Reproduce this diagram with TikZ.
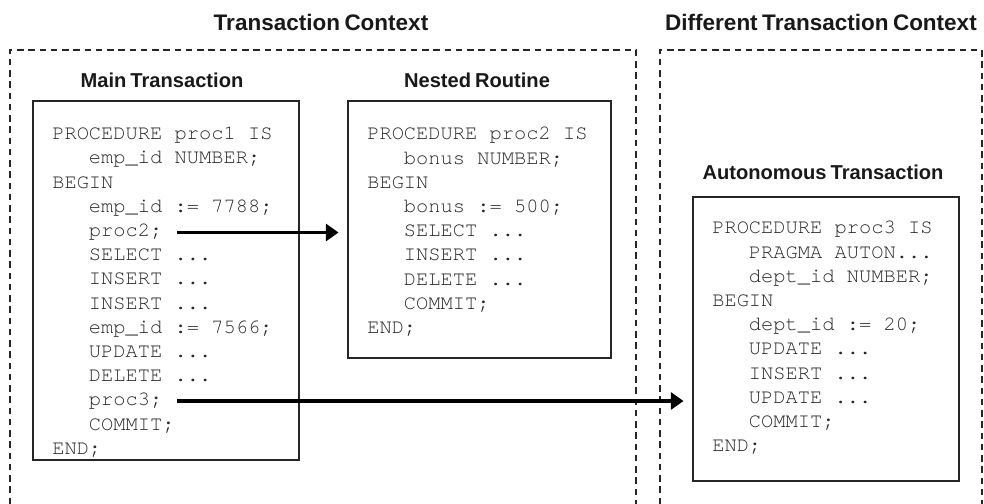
\documentclass[tikz,border=0pt]{standalone}
\usepackage{fontspec}
\setmainfont{Liberation Sans}
\setmonofont{texgyrecursor}[Extension=.otf,UprightFont=*-regular,BoldFont=*-bold]
\usetikzlibrary{arrows.meta}
\newcommand{\codeind}{\phantom{xxx}}

\begin{document}
\begin{tikzpicture}[x=0.025cm,y=-0.025cm,
  ctx/.style={dash pattern=on 4.5pt off 3.5pt,line width=0.9pt,draw=black!85},
  box/.style={draw=black!85,line width=1.1pt,inner sep=0pt,anchor=north west},
  code/.style={font=\ttfamily\fontsize{14.5}{17.2}\selectfont,align=left,anchor=north west,inner sep=0pt,text=black!85},
  title/.style={font={\bfseries\fontsize{16}{18}\selectfont\spaceskip=0.2em\relax},text=black!90},
  subtitle/.style={font={\bfseries\fontsize{14.3}{17}\selectfont\spaceskip=0.2em\relax},text=black!90},
  call/.style={-{Triangle[length=9pt,width=12pt]},line width=2.5pt,shorten >=6pt}]

\useasboundingbox (0,0) rectangle (984,504);

% contexts
\draw[ctx] (10,504) -- (10,50) -- (636,50) -- (636,504);
\draw[ctx] (660,504) -- (660,50) -- (982,50) -- (982,504);
\node[title](tctx) at (321,22){Transaction Context};
\node[title](dctx) at (821,22){Different Transaction Context};

% boxes
\node[box,minimum width=6.65cm,minimum height=8.975cm](main) at (32,100){};
\node[box,minimum width=6.575cm,minimum height=6.425cm](nested) at (347,100){};
\node[box,minimum width=6.65cm,minimum height=7.1cm](auton) at (692,196){};
\node[subtitle](tmain) at (162,80){Main Transaction};
\node[subtitle](tnest) at (477,80){Nested Routine};
\node[subtitle](tauton) at (823,172){Autonomous Transaction};

\node[code](cmain) at ([shift={(20,27)}]main.north west){PROCEDURE proc1 IS\\
\codeind emp\_id NUMBER;\\
BEGIN\\
\codeind emp\_id := 7788;\\
\codeind proc2;\\
\codeind SELECT ...\\
\codeind INSERT ...\\
\codeind INSERT ...\\
\codeind emp\_id := 7566;\\
\codeind UPDATE ...\\
\codeind DELETE ...\\
\codeind proc3;\\
\codeind COMMIT;\\
END;};
\node[code](cnest) at ([shift={(20,27)}]nested.north west){PROCEDURE proc2 IS\\
\codeind bonus NUMBER;\\
BEGIN\\
\codeind bonus := 500;\\
\codeind SELECT ...\\
\codeind INSERT ...\\
\codeind DELETE ...\\
\codeind COMMIT;\\
END;};
\node[code](cauton) at ([shift={(20,25)}]auton.north west){PROCEDURE proc3 IS\\
\codeind PRAGMA AUTON...\\
\codeind dept\_id NUMBER;\\
BEGIN\\
\codeind dept\_id := 20;\\
\codeind UPDATE ...\\
\codeind INSERT ...\\
\codeind UPDATE ...\\
\codeind COMMIT;\\
END;};

% calls
\coordinate(p2) at (177,232.5);
\coordinate(p3) at (177,401);
\path(p2)edge[call](p2 -| nested.west)
(p3)edge[call](p3 -| auton.west);

\end{tikzpicture}
\end{document}
